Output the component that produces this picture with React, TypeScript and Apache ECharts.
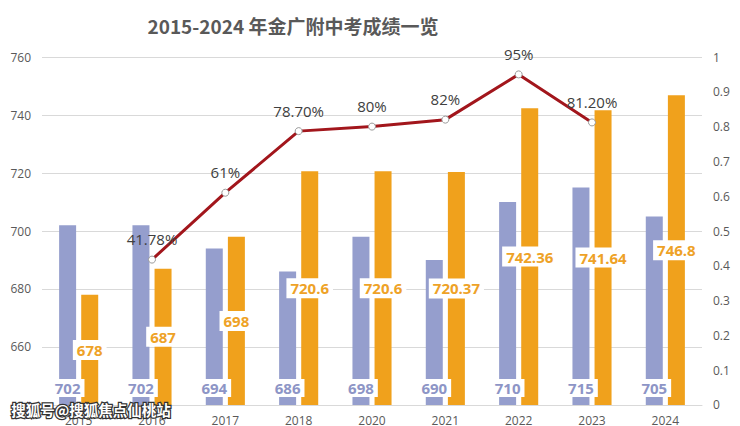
import React, { useEffect, useRef } from "react";
import * as echarts from "echarts";

const years = ["2015", "2016", "2017", "2018", "2020", "2021", "2022", "2023", "2024"];
const blueScores = [702, 702, 694, 686, 698, 690, 710, 715, 705];
const orangeScores = [678, 687, 698, 720.6, 720.6, 720.37, 742.36, 741.64, 746.8];
const rates = [null, 0.4178, 0.61, 0.787, 0.8, 0.82, 0.95, 0.812, null];
const rateLabels = ["", "41.78%", "61%", "78.70%", "80%", "82%", "95%", "81.20%", ""];
const titleText = "2015-2024 年金广附中考成绩一览";
const watermarkText = "搜狐号@搜狐焦点仙桃站";

const FONT = "'Open Sans', 'Noto Sans CJK SC', sans-serif";

export default function App() {
  const ref = useRef<HTMLDivElement>(null);
  useEffect(() => {
    document.body.style.margin = "0";
    const chart = echarts.init(ref.current!, null, { renderer: "svg" });
    chart.setOption({
      animation: false,
      backgroundColor: "#ffffff",
      textStyle: { fontFamily: FONT },
      title: {
        text: titleText,
        left: 288,
        top: 11,
        textAlign: "center",
        textStyle: {
          fontSize: 19,
          fontWeight: "bold",
          color: "#595959",
          fontFamily: "'Noto Sans CJK SC', sans-serif",
        },
      },
      grid: { left: 42, right: 38, top: 57, bottom: 20 },
      xAxis: {
        type: "category",
        data: years,
        axisLine: { lineStyle: { color: "#d9d9d9", width: 1 } },
        axisTick: { show: false },
        axisLabel: { color: "#595959", fontSize: 12, margin: 9, fontFamily: FONT },
      },
      yAxis: [
        {
          type: "value",
          min: 640,
          max: 760,
          interval: 20,
          axisLine: { show: false },
          axisTick: { show: false },
          splitLine: { lineStyle: { color: "#d9d9d9", width: 1 } },
          axisLabel: {
            color: "#595959",
            fontSize: 12,
            margin: 11,
            fontFamily: FONT,
            formatter: (v: number) => (v === 640 ? "" : String(v)),
          },
        },
        {
          type: "value",
          min: 0,
          max: 1,
          interval: 0.1,
          axisLine: { show: false },
          axisTick: { show: false },
          splitLine: { show: false },
          axisLabel: {
            color: "#595959",
            fontSize: 12,
            margin: 11,
            fontFamily: FONT,
            formatter: (v: number) => String(Math.round(v * 10) / 10),
          },
        },
      ],
      series: [
        {
          type: "bar",
          data: blueScores,
          barWidth: 17,
          barGap: "30%",
          itemStyle: { color: "#959ecd" },
          z: 2,
          label: {
            show: true,
            position: "insideBottom",
            distance: 8,
            color: "#8d95c6",
            fontSize: 15,
            fontWeight: "bold",
            fontFamily: FONT,
            backgroundColor: "#ffffff",
            padding: [2, 4, 1, 4],
          },
        },
        {
          type: "bar",
          data: orangeScores,
          barWidth: 17,
          itemStyle: { color: "#f0a11c" },
          z: 2,
          label: {
            show: true,
            position: "inside",
            color: "#eea227",
            fontSize: 15,
            fontWeight: "bold",
            fontFamily: FONT,
            backgroundColor: "#ffffff",
            padding: [3, 4, 2, 4],
          },
        },
        {
          type: "line",
          yAxisIndex: 1,
          data: rates,
          z: 5,
          symbol: "circle",
          symbolSize: 7,
          showAllSymbol: true,
          lineStyle: { color: "#a2161c", width: 3 },
          itemStyle: { color: "#ffffff", borderColor: "#9a9a9a", borderWidth: 1 },
          label: {
            show: true,
            position: "top",
            distance: 9,
            color: "#404040",
            fontSize: 15,
            fontFamily: FONT,
            formatter: (p: any) => rateLabels[p.dataIndex],
          },
        },
      ],
      graphic: [
        {
          type: "text",
          left: 10,
          top: 401,
          z: 100,
          style: {
            text: watermarkText,
            fontSize: 14.5,
            fontWeight: "bold",
            fontFamily: "'Noto Sans CJK SC', sans-serif",
            fill: "#ffffff",
            stroke: "#333333",
            lineWidth: 2.5,
          },
        },
      ],
    });
    return () => chart.dispose();
  }, []);
  return <div ref={ref} style={{ width: 740, height: 426 }} />;
}
